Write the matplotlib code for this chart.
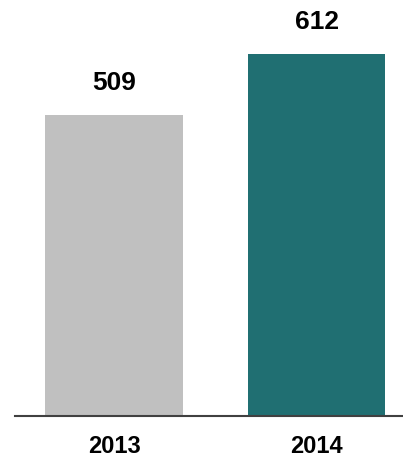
import matplotlib
matplotlib.use("Agg")
import matplotlib.pyplot as plt

years = ["2013", "2014"]
values = [509, 612]
colors = ["#c0c0c0", "#206f72"]

plt.rcParams["font.family"] = ["Liberation Sans", "DejaVu Sans"]

fig = plt.figure(figsize=(4.03, 4.59), dpi=100)
ax = fig.add_axes([15 / 403, 43 / 459, 388 / 403, 416 / 459])

x = list(range(len(years)))
bars = ax.bar(x, values, width=0.68, color=colors)

# value labels above bars
for b, v in zip(bars, values):
    ax.annotate(str(v), (b.get_x() + b.get_width() / 2, v),
                xytext=(0, 23), textcoords="offset points",
                ha="center", va="center", fontsize=19, fontweight="bold")

ax.set_xlim(-0.489, 1.427)
ax.set_ylim(0, 704)
ax.set_xticks(x)
ax.set_xticklabels(years, fontsize=17, fontweight="bold")
ax.tick_params(axis="x", length=0, pad=14)
ax.set_yticks([])

for s in ["top", "right", "left"]:
    ax.spines[s].set_visible(False)
ax.spines["bottom"].set_color("#404040")
ax.spines["bottom"].set_linewidth(1.5)

fig.savefig("out.png", dpi=100)
